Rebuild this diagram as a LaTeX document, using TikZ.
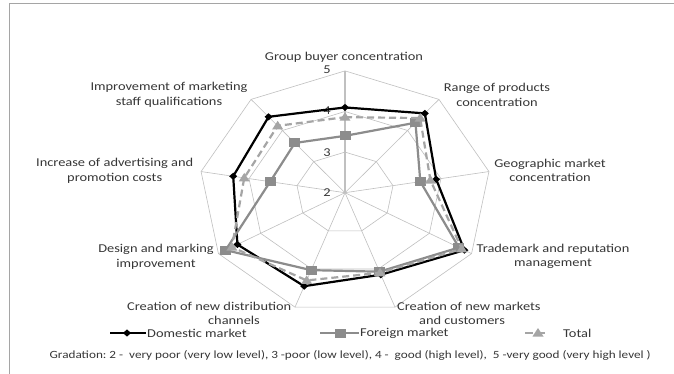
\documentclass[tikz,border=0pt]{standalone}
\usepackage{fontspec}
\setmainfont[FakeStretch=1.2]{Carlito}
\definecolor{gridc}{RGB}{192,192,192}
\definecolor{forc}{RGB}{140,140,140}
\definecolor{totc}{RGB}{165,165,165}
\definecolor{txt}{RGB}{55,55,55}
\definecolor{framec}{RGB}{165,165,165}
\begin{document}
\begin{tikzpicture}[x=1pt,y=-1pt,
  lbl/.style={font=\fontsize{12}{14.7}\selectfont, text=txt, inner sep=0pt, align=center},
  tick/.style={font=\fontsize{12}{14}\selectfont, text=txt, inner sep=0pt},
  gridline/.style={draw=gridc, line width=0.6pt},
  dom/.style={draw=black, line width=2.2pt, line join=round},
  forl/.style={draw=forc, line width=2.2pt, line join=round},
  totl/.style={draw=totc, line width=2.2pt, dash pattern=on 7pt off 4pt, line join=round},
  dmark/.pic={\fill[black] (-4,0)--(0,-3.6)--(4,0)--(0,3.6)--cycle;},
  fmark/.pic={\fill[forc] (-5.5,-4.5) rectangle (5.5,4.5);},
  tmark/.pic={\fill[totc] (-5.5,3.5)--(0,-5)--(5.5,3.5)--cycle;}
]
\useasboundingbox (0,0) rectangle (674,374);
\fill[white] (0,0) rectangle (674,374);
% frame
\coordinate (fa) at (9,374); \coordinate (fb) at (9,4); \coordinate (fc) at (674,4);
\draw[framec, line width=1pt] (fa) -- (fb) -- (fc);
% centre and grid
\coordinate (C) at (345,192.7);
\foreach \r [count=\k] in {40.6,81.2,121.8}{
  \foreach \i in {0,...,8}{
    \coordinate (r\k v\i) at ({345+1.2*\r*sin(40*\i)},{192.7-\r*cos(40*\i)});
  }
  \draw[gridline] (r\k v0) -- (r\k v1) -- (r\k v2) -- (r\k v3) -- (r\k v4) -- (r\k v5) -- (r\k v6) -- (r\k v7) -- (r\k v8) -- cycle;
}
\foreach \i in {1,...,8}{ \draw[gridline] (C) -- (r3v\i); }
\draw[draw=gridc, line width=1.2pt] (C) -- (r3v0);
% tick labels
\node[tick] (t2) at (327,193) {2};
\node[tick] (t3) at (327,153) {3};
\node[tick] (t4) at (327,111) {4};
\node[tick] (t5) at (327,70) {5};
% data
\foreach \v [count=\j from 0] in {4.1,4.55,3.9,4.83,4.15,4.45,4.55,4.33,4.44}{
  \coordinate (d\j) at ({345+1.2*(\v-2)*40.6*sin(40*\j)},{192.7-(\v-2)*40.6*cos(40*\j)});
}
\foreach \v [count=\j from 0] in {3.4,4.25,3.57,4.7,4.07,4.03,4.83,3.56,3.6}{
  \coordinate (f\j) at ({345+1.2*(\v-2)*40.6*sin(40*\j)},{192.7-(\v-2)*40.6*cos(40*\j)});
}
\foreach \v [count=\j from 0] in {3.86,4.4,3.78,4.77,4.1,4.3,4.68,4.1,4.15}{
  \coordinate (s\j) at ({345+1.2*(\v-2)*40.6*sin(40*\j)},{192.7-(\v-2)*40.6*cos(40*\j)});
}
\draw[dom] (d0) -- (d1) -- (d2) -- (d3) -- (d4) -- (d5) -- (d6) -- (d7) -- (d8) -- cycle;
\foreach \j in {0,...,8}{ \pic at (d\j) {dmark}; }
\draw[forl] (f0) -- (f1) -- (f2) -- (f3) -- (f4) -- (f5) -- (f6) -- (f7) -- (f8) -- cycle;
\foreach \j in {0,...,8}{ \pic at (f\j) {fmark}; }
\draw[totl] (s0) -- (s1) -- (s2) -- (s3) -- (s4) -- (s5) -- (s6) -- (s7) -- (s8) -- cycle;
\foreach \j in {0,...,8}{ \pic at (s\j) {tmark}; }
% category labels
\node[lbl] (a0) at (344,57) {Group buyer concentration};
\node[lbl] (a1) at (497,95) {Range of products\\concentration};
\node[lbl] (a2) at (550,170.5) {Geographic market\\concentration};
\node[lbl] (a3) at (553,256.5) {Trademark and reputation\\management};
\node[lbl, anchor=west] (a4a) at (397,306) {Creation of new markets};
\node[lbl] (a4b) at (462,320.5) {and customers};
\node[lbl, anchor=east] (a5a) at (291.5,306) {Creation of new distribution};
\node[lbl] (a5b) at (234,320.5) {channels};
\node[lbl] (a6) at (156,257) {Design and marking\\improvement};
\node[lbl] (a7) at (114.7,171) {Increase of advertising and\\promotion costs};
\node[lbl] (a8) at (169,95) {Improvement of marketing\\staff qualifications};
% legend
\coordinate (l1a) at (110,333); \coordinate (l1b) at (146,333); \coordinate (l1m) at (127,333);
\draw[dom, line width=2pt] (l1a) -- (l1b); \pic at (l1m) {dmark};
\node[lbl, anchor=west] (l1t) at (147,333) {Domestic market};
\coordinate (l2a) at (320,333); \coordinate (l2b) at (359,333); \coordinate (l2m) at (340,333);
\draw[forl, line width=2pt] (l2a) -- (l2b); \pic at (l2m) {fmark};
\node[lbl, anchor=west] (l2t) at (360,333) {Foreign market};
\coordinate (l3a) at (525,333); \coordinate (l3b) at (545,333); \coordinate (l3m) at (538,333);
\draw[totl, line width=2pt, dash pattern=on 8pt off 5pt] (l3a) -- (l3b); \pic at (l3m) {tmark};
\node[lbl, anchor=west] (l3t) at (563,333) {Total};
% gradation
\node[font=\fontsize{11}{13}\selectfont, text=txt, inner sep=0pt, anchor=west] (grad) at (49.4,355) {Gradation:\ 2 -\ \ very poor (very low level), 3 -poor (low level), 4 -\ \ good (high level),\ \ 5 -very good (very high level )};
\end{tikzpicture}
\end{document}
